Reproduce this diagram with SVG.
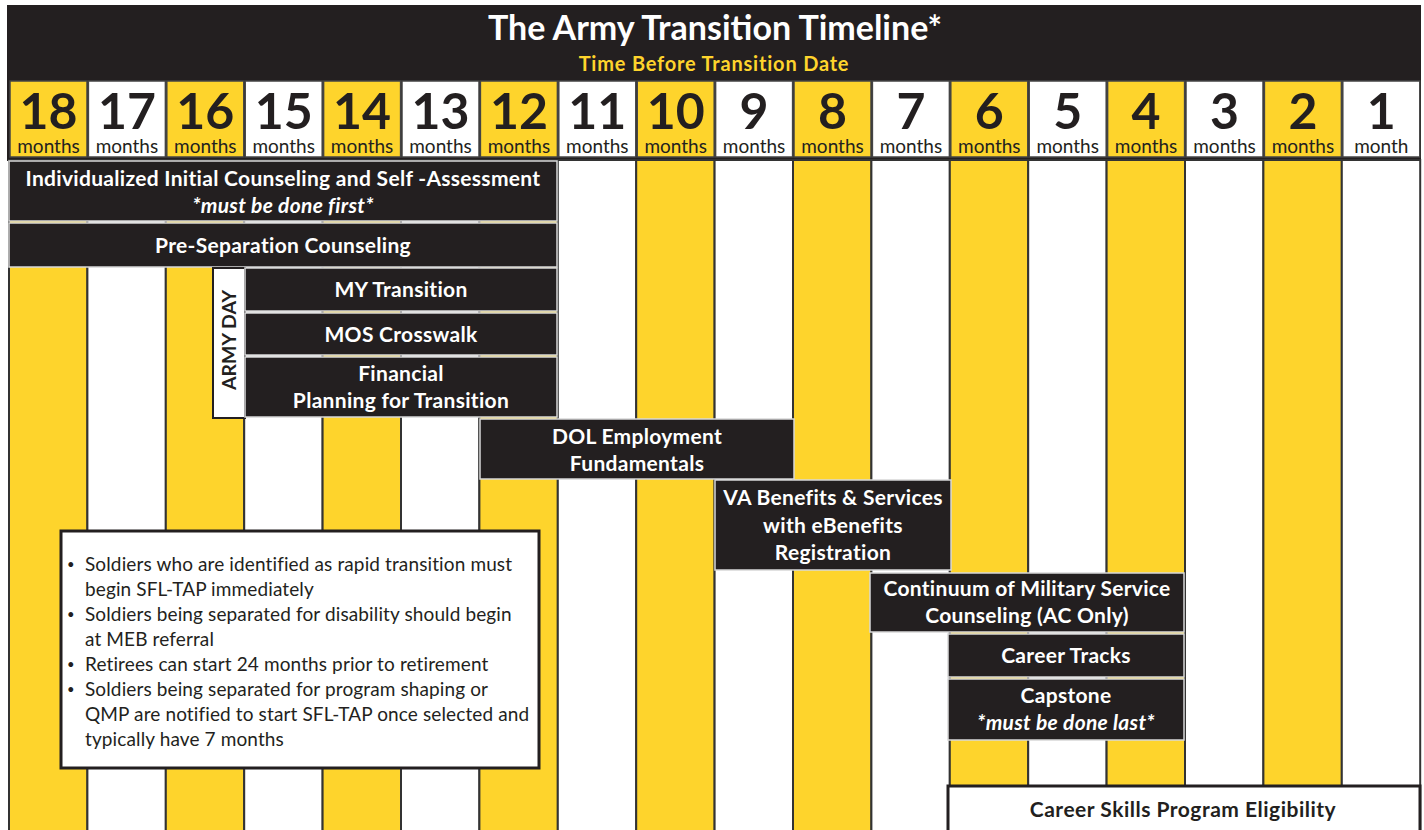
<svg xmlns="http://www.w3.org/2000/svg" width="1424" height="830" viewBox="0 0 1424 830">
<style>
.y{fill:#FED42C}
.w{fill:#FFFFFF}
.col{stroke:#333;stroke-width:2}
.num{font-family:Lato,"Liberation Sans",sans-serif;font-weight:bold;font-size:50px;fill:#231F20;text-anchor:middle}
.mo{font-family:Lato,"Liberation Sans",sans-serif;font-size:19px;fill:#231F20;text-anchor:middle}
.bar{fill:#231F20;stroke:#d8d8d8;stroke-width:1.5}
.bt{font-family:Lato,"Liberation Sans",sans-serif;font-weight:bold;font-size:21px;letter-spacing:0.3px;fill:#FFFFFF;text-anchor:middle}
.it{font-style:italic}
.note{font-family:Lato,"Liberation Sans",sans-serif;font-size:19px;letter-spacing:0.12px;fill:#231F20}
.bul{font-family:Lato,"Liberation Sans",sans-serif;font-size:13px;fill:#231F20}
</style>
<rect x="0" y="0" width="1424" height="830" fill="#FFFFFF"/>
<g id="grid">
<rect x="7" y="5" width="1414" height="156" fill="#231F20"/>
<g class="col">
<rect class="y" x="9" y="160" width="78.4" height="672"/>
<rect class="w" x="87.4" y="160" width="78.4" height="672"/>
<rect class="y" x="165.8" y="160" width="78.4" height="672"/>
<rect class="w" x="244.2" y="160" width="78.4" height="672"/>
<rect class="y" x="322.6" y="160" width="78.4" height="672"/>
<rect class="w" x="401" y="160" width="78.4" height="672"/>
<rect class="y" x="479.4" y="160" width="78.4" height="672"/>
<rect class="w" x="557.8" y="160" width="78.4" height="672"/>
<rect class="y" x="636.2" y="160" width="78.4" height="672"/>
<rect class="w" x="714.6" y="160" width="78.4" height="672"/>
<rect class="y" x="793" y="160" width="78.4" height="672"/>
<rect class="w" x="871.4" y="160" width="78.4" height="672"/>
<rect class="y" x="949.8" y="160" width="78.4" height="672"/>
<rect class="w" x="1028.2" y="160" width="78.4" height="672"/>
<rect class="y" x="1106.6" y="160" width="78.4" height="672"/>
<rect class="w" x="1185" y="160" width="78.4" height="672"/>
<rect class="y" x="1263.4" y="160" width="78.4" height="672"/>
<rect class="w" x="1341.8" y="160" width="78.4" height="672"/>
</g>
</g>
<g id="header">
<text x="715" y="40" font-family="Lato,'Liberation Sans',sans-serif" font-weight="bold" font-size="34" fill="#FFFFFF" text-anchor="middle">The Army Transition Timeline*</text>
<text x="714" y="71" font-family="Lato,'Liberation Sans',sans-serif" font-weight="bold" font-size="20" letter-spacing="0.8" fill="#FED42C" text-anchor="middle">Time Before Transition Date</text>
<g stroke="#444" stroke-width="1.5">
<rect class="y" x="10" y="81" width="77" height="76"/>
<rect class="w" x="88.4" y="81" width="77" height="76"/>
<rect class="y" x="166.8" y="81" width="77" height="76"/>
<rect class="w" x="245.2" y="81" width="77" height="76"/>
<rect class="y" x="323.6" y="81" width="77" height="76"/>
<rect class="w" x="402" y="81" width="77" height="76"/>
<rect class="y" x="480.4" y="81" width="77" height="76"/>
<rect class="w" x="558.8" y="81" width="77" height="76"/>
<rect class="y" x="637.2" y="81" width="77" height="76"/>
<rect class="w" x="715.6" y="81" width="77" height="76"/>
<rect class="y" x="794" y="81" width="77" height="76"/>
<rect class="w" x="872.4" y="81" width="77" height="76"/>
<rect class="y" x="950.8" y="81" width="77" height="76"/>
<rect class="w" x="1029.2" y="81" width="77" height="76"/>
<rect class="y" x="1107.6" y="81" width="77" height="76"/>
<rect class="w" x="1186" y="81" width="77" height="76"/>
<rect class="y" x="1264.4" y="81" width="77" height="76"/>
<rect class="w" x="1342.8" y="81" width="77" height="76"/>
</g>
<text class="num" x="48.5" y="129">18</text><text class="mo" x="48.5" y="153">months</text>
<text class="num" x="126.9" y="129">17</text><text class="mo" x="126.9" y="153">months</text>
<text class="num" x="205.3" y="129">16</text><text class="mo" x="205.3" y="153">months</text>
<text class="num" x="283.7" y="129">15</text><text class="mo" x="283.7" y="153">months</text>
<text class="num" x="362.1" y="129">14</text><text class="mo" x="362.1" y="153">months</text>
<text class="num" x="440.5" y="129">13</text><text class="mo" x="440.5" y="153">months</text>
<text class="num" x="518.9" y="129">12</text><text class="mo" x="518.9" y="153">months</text>
<text class="num" x="597.3" y="129">11</text><text class="mo" x="597.3" y="153">months</text>
<text class="num" x="675.7" y="129">10</text><text class="mo" x="675.7" y="153">months</text>
<text class="num" x="754.1" y="129">9</text><text class="mo" x="754.1" y="153">months</text>
<text class="num" x="832.5" y="129">8</text><text class="mo" x="832.5" y="153">months</text>
<text class="num" x="910.9" y="129">7</text><text class="mo" x="910.9" y="153">months</text>
<text class="num" x="989.3" y="129">6</text><text class="mo" x="989.3" y="153">months</text>
<text class="num" x="1067.7" y="129">5</text><text class="mo" x="1067.7" y="153">months</text>
<text class="num" x="1146.1" y="129">4</text><text class="mo" x="1146.1" y="153">months</text>
<text class="num" x="1224.5" y="129">3</text><text class="mo" x="1224.5" y="153">months</text>
<text class="num" x="1302.9" y="129">2</text><text class="mo" x="1302.9" y="153">months</text>
<text class="num" x="1381.3" y="129">1</text><text class="mo" x="1381.3" y="153">month</text>
</g>
<g id="n-initial">
<rect class="bar" x="9" y="161" width="548" height="60"/>
<text class="bt" x="283" y="186">Individualized Initial Counseling and Self -Assessment</text>
<text class="bt it" x="283" y="213">*must be done first*</text>
</g>
<g id="n-presep">
<rect class="bar" x="9" y="223" width="548" height="44"/>
<text class="bt" x="283" y="253">Pre-Separation Counseling</text>
</g>
<g id="n-armyday">
<rect x="213" y="268" width="32" height="150" fill="#FFFFFF" stroke="#231F20" stroke-width="2"/>
<text x="0" y="0" transform="translate(236,340) rotate(-90)" font-family="Lato,'Liberation Sans',sans-serif" font-weight="bold" font-size="19.5" fill="#231F20" text-anchor="middle">ARMY DAY</text>
</g>
<g id="n-mytransition">
<rect class="bar" x="245" y="268" width="312" height="43"/>
<text class="bt" x="401" y="297">MY Transition</text>
</g>
<g id="n-moscrosswalk">
<rect class="bar" x="245" y="313" width="312" height="42"/>
<text class="bt" x="401" y="342">MOS Crosswalk</text>
</g>
<g id="n-financial">
<rect class="bar" x="245" y="357" width="312" height="60"/>
<text class="bt" x="401" y="381">Financial</text>
<text class="bt" x="401" y="408">Planning for Transition</text>
</g>
<g id="n-dol">
<rect class="bar" x="480" y="419" width="314" height="60"/>
<text class="bt" x="637" y="444">DOL Employment</text>
<text class="bt" x="637" y="471">Fundamentals</text>
</g>
<g id="n-va">
<rect class="bar" x="715" y="480" width="236" height="90"/>
<text class="bt" x="833" y="505">VA Benefits &amp; Services</text>
<text class="bt" x="833" y="533">with eBenefits</text>
<text class="bt" x="833" y="560">Registration</text>
</g>
<g id="n-continuum">
<rect class="bar" x="870" y="573" width="314" height="59"/>
<text class="bt" x="1027" y="596">Continuum of Military Service</text>
<text class="bt" x="1027" y="623">Counseling (AC Only)</text>
</g>
<g id="n-careertracks">
<rect class="bar" x="948" y="634" width="236" height="43"/>
<text class="bt" x="1066" y="663">Career Tracks</text>
</g>
<g id="n-capstone">
<rect class="bar" x="948" y="679" width="236" height="61"/>
<text class="bt" x="1066" y="703">Capstone</text>
<text class="bt it" x="1066" y="730">*must be done last*</text>
</g>
<g id="n-careerskills">
<rect x="948" y="786" width="472" height="46" fill="#FFFFFF" stroke="#231F20" stroke-width="3"/>
<text x="1183" y="817" font-family="Lato,'Liberation Sans',sans-serif" font-weight="bold" font-size="21" letter-spacing="0.5" fill="#231F20" text-anchor="middle">Career Skills Program Eligibility</text>
</g>
<g id="n-note">
<rect x="61" y="531" width="478" height="237" fill="#FFFFFF" stroke="#231F20" stroke-width="3"/>
<g class="bul">
<text x="67" y="569">•</text>
<text x="67" y="619">•</text>
<text x="67" y="669">•</text>
<text x="67" y="694">•</text>
</g>
<g class="note">
<text x="85" y="571">Soldiers who are identified as rapid transition must</text>
<text x="85" y="596">begin SFL-TAP immediately</text>
<text x="85" y="621">Soldiers being separated for disability should begin</text>
<text x="85" y="646">at MEB referral</text>
<text x="85" y="671">Retirees can start 24 months prior to retirement</text>
<text x="85" y="696">Soldiers being separated for program shaping or</text>
<text x="85" y="721">QMP are notified to start SFL-TAP once selected and</text>
<text x="85" y="746">typically have 7 months</text>
</g>
</g>
<g id="connectors"></g>
</svg>
